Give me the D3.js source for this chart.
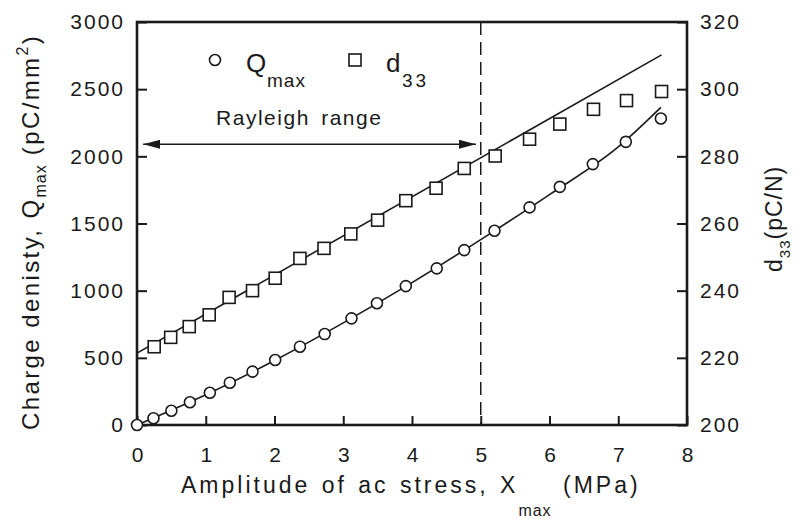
<!DOCTYPE html>
<html><head><meta charset="utf-8">
<script src="https://cdn.jsdelivr.net/npm/d3@7"></script>
<style>
body{margin:0;background:#fff}
text{font-family:"Liberation Sans",Arial,Helvetica,sans-serif;fill:#1a1a1a}
</style>
</head><body>
<svg id="c" width="802" height="519"></svg>
<script>
// ---- data ----
const stressQ = [0, 0.24, 0.50, 0.77, 1.06, 1.35, 1.68, 2.01, 2.37, 2.73, 3.12, 3.49, 3.91, 4.36, 4.76, 5.20, 5.71, 6.15, 6.63, 7.11, 7.62];
const qmax    = [0, 50, 106, 169, 240, 315, 397, 484, 583, 677, 794, 906, 1034, 1166, 1302, 1446, 1620, 1773, 1942, 2108, 2282];
const stressD = [0.25, 0.49, 0.76, 1.05, 1.34, 1.68, 2.01, 2.37, 2.72, 3.11, 3.50, 3.91, 4.35, 4.76, 5.21, 5.71, 6.15, 6.64, 7.12, 7.63];
const d33     = [223.3, 226.1, 229.3, 232.8, 238.0, 240.0, 243.7, 249.6, 252.6, 256.9, 261.0, 266.8, 270.5, 276.4, 280.1, 285.1, 289.6, 294.0, 296.6, 299.3];
const fitQX   = [0, 1, 2, 3, 4, 5, 6, 7, 7.62];
const fitQ    = [0, 225, 480, 760, 1060, 1380, 1715, 2070, 2364];
const fitDX   = [0, 7.63];
const fitD    = [221.4, 310.2];
const xTicks  = [0, 1, 2, 3, 4, 5, 6, 7, 8];
const yLTicks = [0, 500, 1000, 1500, 2000, 2500, 3000];
const yRTicks = [200, 220, 240, 260, 280, 300, 320];
const rayleighLimit = 5;
const arrowX = [0.09, 4.93];
const arrowQ = 2090;

// ---- layout ----
const svg = d3.select('#c');
const M = {l:137, r:687, t:22, b:425};
const x  = d3.scaleLinear().domain([0, 8]).range([M.l, M.r]);
const yL = d3.scaleLinear().domain([0, 3000]).range([M.b, M.t]);
const yR = d3.scaleLinear().domain([200, 320]).range([M.b, M.t]);
const ink = '#1a1a1a';

function styleAxis(g){
  g.select('.domain').remove();
  g.attr('font-family', '"Liberation Sans",Arial,sans-serif').attr('font-size', 21);
  g.selectAll('line').attr('stroke', ink).attr('stroke-width', 2);
  g.selectAll('text').attr('fill', ink).style('letter-spacing', '2px');
}

svg.append('g').attr('transform', `translate(0,${M.b})`)
  .call(d3.axisBottom(x).tickValues(xTicks).tickSizeInner(-9).tickSizeOuter(0).tickPadding(22).tickFormat(d3.format('d')))
  .call(styleAxis)
  .selectAll('text').attr('dx', '1');

svg.append('g').attr('transform', `translate(${M.l},0)`)
  .call(d3.axisLeft(yL).tickValues(yLTicks).tickSizeInner(-10).tickSizeOuter(0).tickPadding(12).tickFormat(d3.format('d')))
  .call(styleAxis);

svg.append('g').attr('transform', `translate(${M.r},0)`)
  .call(d3.axisRight(yR).tickValues(yRTicks).tickSizeInner(-10).tickSizeOuter(0).tickPadding(13).tickFormat(d3.format('d')))
  .call(styleAxis);

// frame
svg.append('rect').attr('x', M.l).attr('y', M.t).attr('width', M.r - M.l).attr('height', M.b - M.t)
  .attr('fill', 'none').attr('stroke', ink).attr('stroke-width', 2.6);

// dashed Rayleigh limit
svg.append('line').attr('x1', x(rayleighLimit)).attr('x2', x(rayleighLimit))
  .attr('y1', M.t).attr('y2', M.b).attr('stroke', ink).attr('stroke-width', 1.5)
  .attr('stroke-dasharray', '13,7');

// double arrow
const defs = svg.append('defs');
['s','e'].forEach(k => {
  defs.append('marker').attr('id', 'ah' + k).attr('viewBox', '0 0 17 9')
    .attr('refX', k === 'e' ? 17 : 0).attr('refY', 4.5)
    .attr('markerWidth', 17).attr('markerHeight', 9).attr('markerUnits', 'userSpaceOnUse')
    .attr('orient', 'auto')
    .append('path').attr('d', k === 'e' ? 'M0,0 L17,4.5 L0,9 Z' : 'M17,0 L0,4.5 L17,9 Z').attr('fill', ink);
});
svg.append('line').attr('x1', x(arrowX[0])).attr('x2', x(arrowX[1]))
  .attr('y1', yL(arrowQ)).attr('y2', yL(arrowQ))
  .attr('stroke', ink).attr('stroke-width', 1.3)
  .attr('marker-start', 'url(#ahs)').attr('marker-end', 'url(#ahe)');
svg.append('text').attr('x', x(2.36)).attr('y', 125).attr('text-anchor', 'middle')
  .attr('font-size', 21).style('letter-spacing', '1.5px').style('word-spacing', '4px')
  .text('Rayleigh range');

// fit lines
const lineQ = d3.line().x(d => x(d[0])).y(d => yL(d[1])).curve(d3.curveMonotoneX);
const lineD = d3.line().x(d => x(d[0])).y(d => yR(d[1]));
svg.append('path').attr('d', lineQ(fitQX.map((v, i) => [v, fitQ[i]])))
  .attr('fill', 'none').attr('stroke', ink).attr('stroke-width', 1.6);
svg.append('path').attr('d', lineD(fitDX.map((v, i) => [v, fitD[i]])))
  .attr('fill', 'none').attr('stroke', ink).attr('stroke-width', 1.6);

// markers
svg.append('g').selectAll('rect').data(stressD.map((v, i) => [v, d33[i]])).join('rect')
  .attr('x', d => x(d[0]) - 6).attr('y', d => yR(d[1]) - 6).attr('width', 12).attr('height', 12)
  .attr('fill', '#fff').attr('stroke', ink).attr('stroke-width', 1.6);
svg.append('g').selectAll('circle').data(stressQ.map((v, i) => [v, qmax[i]])).join('circle')
  .attr('cx', d => x(d[0])).attr('cy', d => yL(d[1])).attr('r', 5.5)
  .attr('fill', '#fff').attr('stroke', ink).attr('stroke-width', 1.6);

// legend
svg.append('circle').attr('cx', 215).attr('cy', 60).attr('r', 5.5).attr('fill', '#fff').attr('stroke', ink).attr('stroke-width', 1.6);
svg.append('text').attr('x', 246).attr('y', 72).attr('font-size', 26).text('Q');
svg.append('text').attr('x', 267).attr('y', 87).attr('font-size', 19).style('letter-spacing', '1px').text('max');
svg.append('rect').attr('x', 349).attr('y', 54).attr('width', 12).attr('height', 12).attr('fill', '#fff').attr('stroke', ink).attr('stroke-width', 1.6);
svg.append('text').attr('x', 386).attr('y', 72).attr('font-size', 26).text('d');
svg.append('text').attr('x', 402).attr('y', 87).attr('font-size', 19).style('letter-spacing', '3px').text('33');

// x title
const xt = svg.append('text').attr('x', 181).attr('y', 493).attr('font-size', 23)
  .style('letter-spacing', '3px').style('word-spacing', '2px');
xt.append('tspan').text('Amplitude of ac stress, X');
xt.append('tspan').attr('dy', 23).attr('font-size', 16).style('letter-spacing', '1px').text('max');
xt.append('tspan').attr('dy', -23).text(' (MPa)');

// left title
const lt = svg.append('text').attr('transform', 'translate(39,430) rotate(-90)')
  .attr('font-size', 24).style('letter-spacing', '2.4px');
lt.append('tspan').text('Charge denisty, Q');
lt.append('tspan').attr('dy', 7).attr('font-size', 16).style('letter-spacing', '1px').text('max');
lt.append('tspan').attr('dy', -7).text(' (pC/mm');
lt.append('tspan').attr('dy', -11).attr('font-size', 16).text('2');
lt.append('tspan').attr('dy', 11).text(')');

// right title
const rt = svg.append('text').attr('transform', 'translate(782,272) rotate(-90)')
  .attr('font-size', 23).style('letter-spacing', '1px');
rt.append('tspan').text('d');
rt.append('tspan').attr('dy', 8).attr('font-size', 15).text('33');
rt.append('tspan').attr('dy', -8).text('(pC/N)');
</script>
</body></html>
